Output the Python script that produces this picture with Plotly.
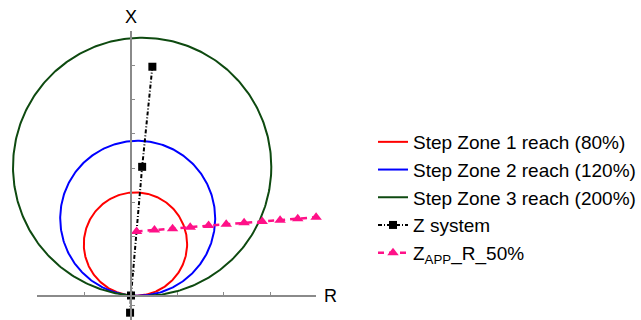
import numpy as np
import plotly.graph_objects as go

# ---- data (ohms) ----
zone_names = ["Step Zone 1 reach (80%)", "Step Zone 2 reach (120%)", "Step Zone 3 reach (200%)"]
zone_reach = [0.8, 1.2, 2.0]
zone_colors = ["#FF0000", "#0000FF", "#0E4A10"]

# system impedance path: source, relay, line end, remote
zsys_r = [-0.4, 0.0, 4.8, 9.2]
zsys_x = [-7.4, 0.0, 55.4, 98.5]

# apparent impedance for a fault at 50% of the line with increasing fault resistance
zapp_r = [2.4, 10.1, 17.9, 25.5, 33.4, 41.0, 48.7, 56.5, 64.2, 71.8, 79.7]
zapp_x = [27.6, 28.2, 28.7, 29.4, 30.1, 30.7, 31.3, 31.9, 32.4, 33.0, 33.7]

# line impedance = relay-to-line-end segment of the system path
line_r, line_x = zsys_r[2], zsys_x[2]
z_mag = np.hypot(line_r, line_x)
z_ang = np.arctan2(line_x, line_r)

fig = go.Figure()

# mho circles passing through the origin
t = np.linspace(0, 2 * np.pi, 361)
for name, k, col in zip(zone_names, zone_reach, zone_colors):
    rad = k * z_mag / 2
    cx, cy = rad * np.cos(z_ang), rad * np.sin(z_ang)
    fig.add_trace(go.Scatter(
        x=cx + rad * np.cos(t), y=cy + rad * np.sin(t),
        mode="lines", name=name, legendgroup=name,
        line=dict(color=col, width=2),
        hoverinfo="skip",
    ))

fig.add_trace(go.Scatter(
    x=zsys_r, y=zsys_x, mode="lines+markers", name="Z system", legendgroup="zsys",
    line=dict(color="black", width=2, dash="4px,2px,1px,2px"),
    marker=dict(symbol="square", size=8, color="black"),
    cliponaxis=False,
))

fig.add_trace(go.Scatter(
    x=zapp_r, y=zapp_x, mode="lines+markers", name="Z<sub>APP</sub>_R_50%", legendgroup="zapp",
    line=dict(color="#FF1188", width=2.5, dash="6px,5px"),
    marker=dict(symbol="triangle-up", size=10, color="#FF1188"),
    cliponaxis=False,
))

# placeholder so the visible R axis (x2) gets drawn
fig.add_trace(go.Scatter(
    x=[0], y=[0], xaxis="x2", yaxis="y", mode="markers",
    marker=dict(opacity=0), showlegend=False, hoverinfo="skip",
))

W, H = 641, 320
px_per = 2.3225
x0_px, y0_px = 131.0, 295.5
x_left_px, x_right_px = 37.3, 316.0
y_top_px, y_bot_px = 30.7, 320.0

# data x-axis spans the whole width so the large circle is not clipped
x_full = [(0 - x0_px) / px_per, (W - x0_px) / px_per]
x_vis = [(x_left_px - x0_px) / px_per, (x_right_px - x0_px) / px_per]
y_range = [(y0_px - y_bot_px) / px_per, (y0_px - y_top_px) / px_per]

axis_common = dict(
    showgrid=False, zeroline=False, showticklabels=False,
    showline=True, linecolor="#8A8A8A", linewidth=1.5,
    ticks="inside", ticklen=3, tickcolor="#8A8A8A", tickwidth=1,
    anchor="free",
)

fig.update_layout(
    width=W, height=H,
    margin=dict(l=0, r=0, t=0, b=0),
    paper_bgcolor="white", plot_bgcolor="rgba(0,0,0,0)",
    font=dict(family="Liberation Sans, Arial, sans-serif", color="black"),
    xaxis=dict(
        domain=[0, 1], range=x_full, visible=False, fixedrange=True,
    ),
    xaxis2=dict(
        domain=[x_left_px / W, x_right_px / W], range=x_vis,
        tick0=0, dtick=20, position=(H - y0_px) / H, **axis_common,
    ),
    yaxis=dict(
        domain=[0, (H - y_top_px) / H], range=y_range,
        tick0=10.55, dtick=14.78, position=x0_px / W, **axis_common,
    ),
    showlegend=True,
    legend=dict(
        x=373 / W, y=(H - 123) / H, xanchor="left", yanchor="top",
        font=dict(size=19, family="Liberation Sans, Arial, sans-serif"),
        tracegroupgap=0, bgcolor="rgba(0,0,0,0)",
    ),
    annotations=[
        dict(text="X", x=0, y=1, xref="x", yref="paper", yanchor="middle",
             xanchor="center", yshift=-17, showarrow=False, font=dict(size=18)),
        dict(text="R", x=x_vis[1], y=0, xref="x2", yref="y", xanchor="left",
             yanchor="middle", xshift=6, showarrow=False, font=dict(size=18)),
    ],
)

fig.write_html("out.html")
